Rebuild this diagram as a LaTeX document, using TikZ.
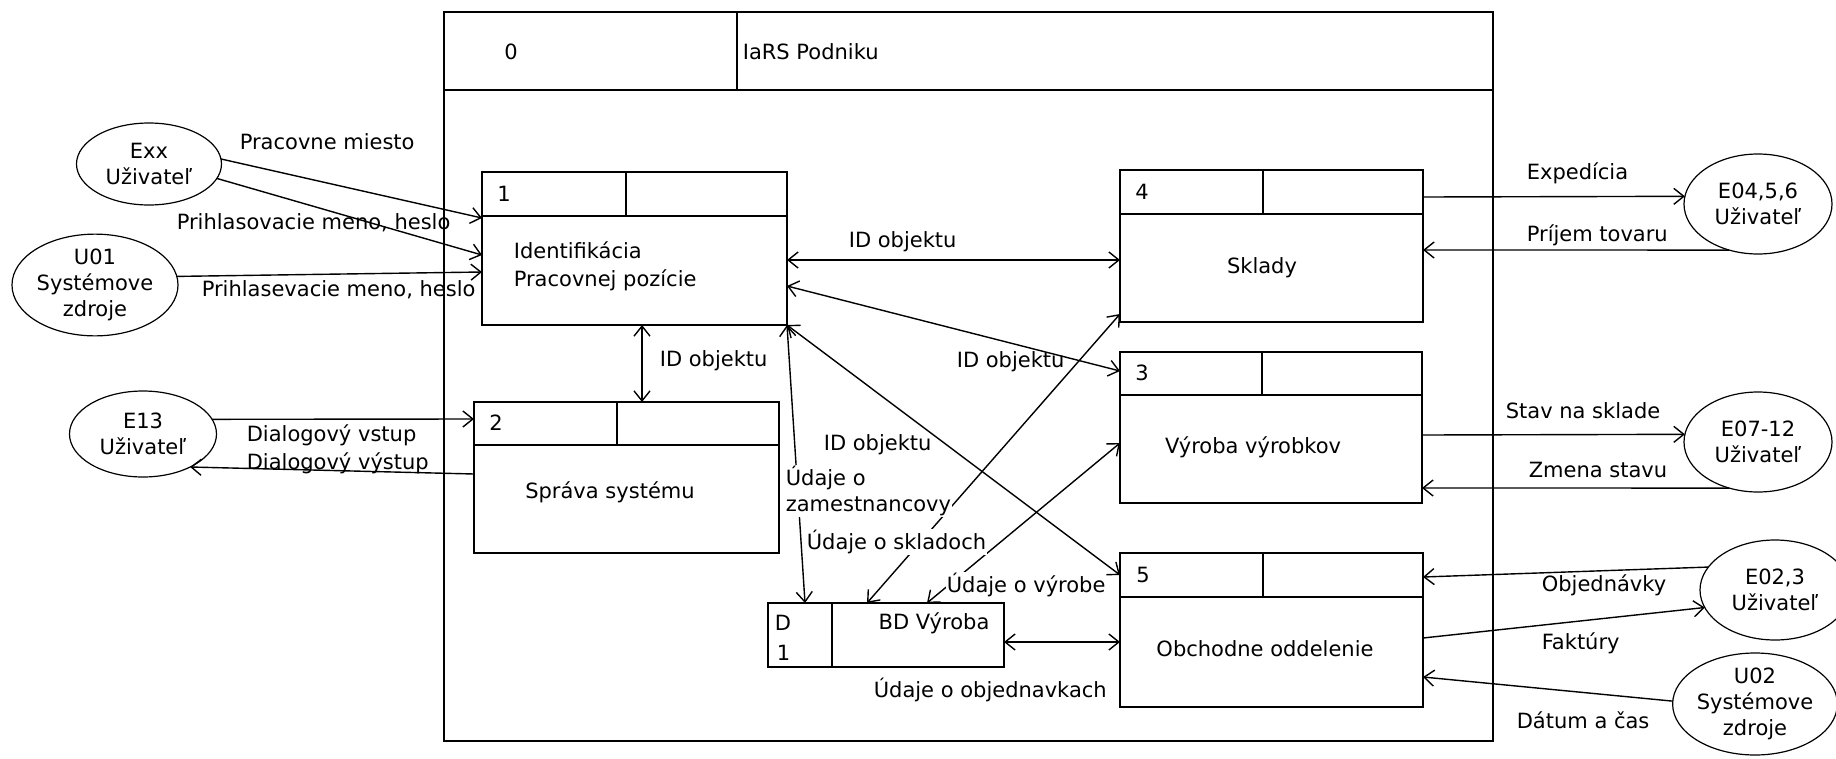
\documentclass[tikz,border=0pt]{standalone}
\usepackage{fontspec}
\setmainfont{DejaVu Sans}
\usetikzlibrary{arrows.meta,shapes.geometric,calc}
\begin{document}
\begin{tikzpicture}[x=1pt,y=-1pt,
  line width=1.6pt,
  every node/.style={font=\fontsize{21pt}{26pt}\selectfont, inner sep=1pt},
  ent/.style={ellipse, draw, line width=1.2pt, inner sep=0pt, outer sep=0pt, align=center},
  box/.style={draw, rectangle, anchor=north west, inner sep=0pt, outer sep=0pt},
  lbl/.style={fill=white, inner sep=1pt},
  barb/.tip={Straight Barb[length=10pt,width=16pt]},
  one/.style={line width=1.4pt, -barb},
  two/.style={line width=1.4pt, barb-barb},
]
\useasboundingbox (0,0) rectangle (1836,758);

% ---------- outer context box ----------
\node[box, minimum width=1049pt, minimum height=729pt] (o) at (444,12) {};
\draw (o.west |- 0,90) -- (o.east |- 0,90);
\draw (o.north -| 737,0) -- (737,90);
\node (o0) at (511,52) {0};
\node[anchor=west] (oname) at (741,52) {IaRS Podniku};

% ---------- process boxes ----------
\node[box, minimum width=305pt, minimum height=153pt] (b1) at (482,172) {};
\draw (b1.west |- 0,216) -- (b1.east |- 0,216);
\draw (b1.north -| 626,0) -- (626,216);
\node (b1n) at (504,194) {1};
\node[anchor=west] (b1t1) at (512,250) {Identifikácia};
\node[anchor=west] (b1t2) at (512,280) {Pracovnej pozície};

\node[box, minimum width=305pt, minimum height=151pt] (b2) at (474,402) {};
\draw (b2.west |- 0,445) -- (b2.east |- 0,445);
\draw (b2.north -| 617,0) -- (617,445);
\node (b2n) at (496,423) {2};
\node (b2t) at (610,492) {Správa systému};

\node[box, minimum width=303pt, minimum height=152pt] (b4) at (1120,170) {};
\draw (b4.west |- 0,214) -- (b4.east |- 0,214);
\draw (b4.north -| 1263,0) -- (1263,214);
\node (b4n) at (1142,192) {4};
\node (b4t) at (1262,268) {Sklady};

\node[box, minimum width=302pt, minimum height=151pt] (b3) at (1120,352) {};
\draw (b3.west |- 0,395) -- (b3.east |- 0,395);
\draw (b3.north -| 1262,0) -- (1262,395);
\node (b3n) at (1142,373) {3};
\node (b3t) at (1253,447) {Výroba výrobkov};

\node[box, minimum width=303pt, minimum height=154pt] (b5) at (1120,553) {};
\draw (b5.west |- 0,597) -- (b5.east |- 0,597);
\draw (b5.north -| 1263,0) -- (1263,597);
\node (b5n) at (1143,575) {5};
\node (b5t) at (1265,649) {Obchodne oddelenie};

% ---------- data store ----------
\node[box, minimum width=236pt, minimum height=64pt] (d1) at (768,603) {};
\draw (d1.north -| 832,0) -- (d1.south -| 832,0);
\node[anchor=west] (d1a) at (773,623) {D};
\node[anchor=west] (d1b) at (775,653) {1};
\node (d1t) at (934,623) {BD Výroba};

% ---------- external entities ----------
\node[ent, minimum width=145pt, minimum height=82pt] (exx) at (149,164) {Exx\\Uživateľ};
\node[ent, minimum width=166pt, minimum height=100pt] (u01) at (95,285) {U01\\Systémove\\zdroje};
\node[ent, minimum width=147pt, minimum height=86pt] (e13) at (143,434) {E13\\Uživateľ};
\node[ent, minimum width=148pt, minimum height=100pt] (e04) at (1758,204) {E04,5,6\\Uživateľ};
\node[ent, minimum width=148pt, minimum height=100pt] (e07) at (1758,442) {E07-12\\Uživateľ};
\node[ent, minimum width=150pt, minimum height=100pt] (e02) at (1775,590) {E02,3\\Uživateľ};
\node[ent, minimum width=160pt, minimum height=102pt] (u02) at (1755,704) {U02\\Systémove\\zdroje};

% ---------- flows, left ----------
\draw[one] (exx.4) -- (b1.west |- 0,218);
\draw[one] (exx.-12) -- (b1.west |- 0,255);
\draw[one] (u01.6) -- (b1.west |- 0,272);
\draw[one] (e13.12) -- (b2.west |- 0,419);
\draw[one] (b2.west |- 0,474) -- (e13.-35);

% ---------- flows, inside ----------
\draw[two] (b1.east |- 0,260) -- (b4.west |- 0,260);
\draw[two] (b1.east |- 0,286) -- (b3.west |- 0,371);
\draw[two] (b1.south -| 642,0) -- (b2.north -| 642,0);
\draw[two] (b1.south east) -- (d1.north -| 805,0);
\draw[two] (b1.south east) -- (b5.west |- 0,575);
\draw[two] (d1.north -| 867,0) -- (b4.west |- 0,314);
\draw[two] (d1.north -| 927,0) -- (b3.west |- 0,443);
\draw[two] (d1.east |- 0,642) -- (b5.west |- 0,642);

% ---------- flows, right ----------
\draw[one] (b4.east |- 0,197) -- (e04.174);
\draw[one] (e04.238) -- (b4.east |- 0,250);
\draw[one] (b3.east |- 0,435) -- (e07.174);
\draw[one] (e07.238) -- (b3.east |- 0,488);
\draw[one] (e02.161) -- (b5.east |- 0,577);
\draw[one] (b5.east |- 0,638) -- (e02.194);
\draw[one] (u02.178) -- (b5.east |- 0,677);

% ---------- flow labels ----------
\node[anchor=west] (lpm) at (238,142) {Pracovne miesto};
\node[anchor=west] (lph1) at (175,223) {Prihlasovacie meno, heslo};
\node[anchor=west] (lph2) at (200,290) {Prihlasevacie meno, heslo};
\node[anchor=west] (ldv) at (245,435) {Dialogový vstup};
\node[anchor=west] (ldw) at (245,463) {Dialogový výstup};

\node[anchor=west] (lid1) at (847,242) {ID objektu};
\node[anchor=west] (lid2) at (658,361) {ID objektu};
\node[anchor=west] (lid3) at (955,362) {ID objektu};
\node[anchor=west] (lid4) at (822,445) {ID objektu};
\node[lbl, anchor=north west, align=left] (luz) at (784,464) {Údaje o\\zamestnancovy};
\node[lbl, anchor=west] (lus) at (805,542) {Údaje o skladoch};
\node[lbl, anchor=west] (luv) at (945,585) {Údaje o výrobe};
\node[anchor=west] (luo) at (872,690) {Údaje o objednavkach};

\node[anchor=west] (lex) at (1525,173) {Expedícia};
\node[anchor=west] (lpr) at (1525,235) {Príjem tovaru};
\node[anchor=west] (lst) at (1504,411) {Stav na sklade};
\node[anchor=west] (lzm) at (1527,470) {Zmena stavu};
\node[anchor=west] (lob) at (1540,585) {Objednávky};
\node[anchor=west] (lfa) at (1540,643) {Faktúry};
\node[anchor=west] (lda) at (1515,720) {Dátum a čas};
\end{tikzpicture}
\end{document}
